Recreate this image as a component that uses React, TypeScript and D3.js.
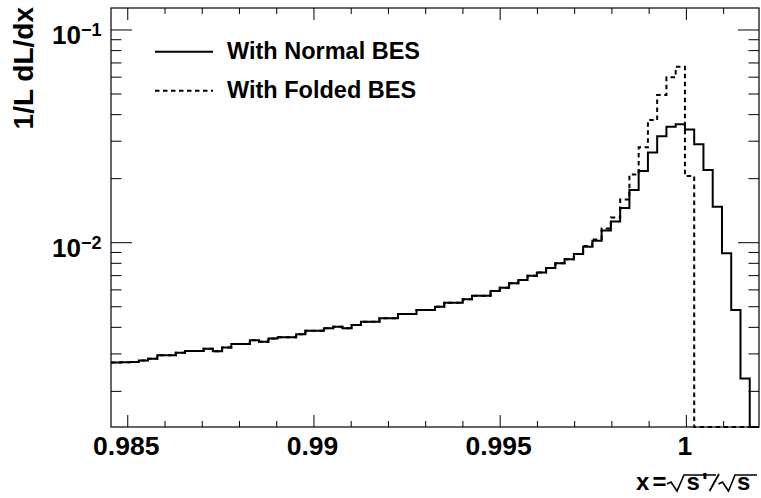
import React from 'react';
import * as d3 from 'd3';

// Histogram range (70 equal bins) and per-bin luminosity fractions
const BIN_LOW = 0.98455;
const BIN_HIGH = 1.00195;

const normalBES = [
  0.002733, 0.00274, 0.002748, 0.002793, 0.002845, 0.002958, 0.002958, 0.003039, 0.003096, 0.003096,
  0.003171, 0.003086, 0.003216, 0.00334, 0.00334, 0.003477, 0.003421, 0.003545, 0.003595, 0.003595,
  0.003714, 0.003853, 0.003853, 0.003959, 0.004028, 0.003959, 0.004103, 0.004252, 0.004252, 0.004411,
  0.004411, 0.004622, 0.004622, 0.004826, 0.004826, 0.005002, 0.005222, 0.005222, 0.005418, 0.005633,
  0.005633, 0.005928, 0.006143, 0.006443, 0.006677, 0.006997, 0.007244, 0.007604, 0.008, 0.008356,
  0.008849, 0.009576, 0.01022, 0.01141, 0.01258, 0.01456, 0.01769, 0.02174, 0.02656, 0.03164,
  0.03511, 0.03604, 0.03406, 0.02901, 0.02197, 0.01477, 0.008916, 0.004826, 0.002297, 0,
];

const foldedBES = [
  0.002733, 0.00274, 0.002748, 0.002793, 0.002845, 0.002958, 0.002958, 0.003039, 0.003096, 0.003096,
  0.003171, 0.003086, 0.003216, 0.00334, 0.00334, 0.003477, 0.003421, 0.003545, 0.003595, 0.003595,
  0.003714, 0.003853, 0.003853, 0.003959, 0.004028, 0.003959, 0.004103, 0.004252, 0.004252, 0.004411,
  0.004411, 0.004622, 0.004622, 0.004826, 0.004826, 0.005002, 0.005222, 0.005222, 0.005418, 0.005633,
  0.005633, 0.005928, 0.006143, 0.006443, 0.006677, 0.006997, 0.007244, 0.007604, 0.008, 0.008356,
  0.008849, 0.00965, 0.01035, 0.01166, 0.01314, 0.01596, 0.02092, 0.02809, 0.03775, 0.04948,
  0.05993, 0.06722, 0.02059, 0, 0, 0, 0, 0, 0, 0,
];

const xMajorTicks = [0.985, 0.99, 0.995, 1];
const xTickLabels = ['0.985', '0.99', '0.995', '1'];
const yMajorTicks = [0.01, 0.1];
const yTickExponents = ['\u22122', '\u22121'];
const legendLabels = ['With Normal BES', 'With Folded BES'];

const Y_MIN = 0.00136;
const Y_MAX = 0.12689;

const W = 761;
const H = 498;
const L = 111;
const R = 759;
const T = 8;
const B = 427;

const FONT = '"Liberation Sans", Arial, Helvetica, sans-serif';

export default function App() {
  const x = d3.scaleLinear().domain([BIN_LOW, BIN_HIGH]).range([L, R]);
  const y = d3.scaleLog().domain([Y_MIN, Y_MAX]).range([B, T]);
  const yPix = (v: number) => (v <= Y_MIN ? B : y(v));

  const nBins = normalBES.length;
  const bw = (BIN_HIGH - BIN_LOW) / nBins;

  const histPath = (vals: number[]) => {
    let d = '';
    vals.forEach((v, i) => {
      const x0 = x(BIN_LOW + i * bw);
      const x1 = x(BIN_LOW + (i + 1) * bw);
      const yy = yPix(v);
      d += i === 0 ? `M${x0},${yy}` : `V${yy}`;
      d += `H${x1}`;
    });
    return d;
  };

  // minor ticks
  const xMinor = d3.range(0.984, 1.003, 0.001)
    .map((v) => Math.round(v * 1000) / 1000)
    .filter((v) => v >= BIN_LOW && v <= BIN_HIGH && !xMajorTicks.some((m) => Math.abs(m - v) < 1e-9));
  const yMinor: number[] = [];
  [0.001, 0.01, 0.1].forEach((dec) => {
    for (let k = 2; k <= 9; k++) {
      const v = k * dec;
      if (v >= Y_MIN && v <= Y_MAX) yMinor.push(v);
    }
  });

  const xMajLen = 12;
  const xMinLen = 6;
  const yMajLen = 21;
  const yMinLen = 10.5;

  return (
    <svg
      width={W}
      height={H}
      style={{ position: 'absolute', left: 0, top: 0, background: '#fff' }}
      fontFamily={FONT}
      fontWeight="bold"
    >
      <rect x={0} y={0} width={W} height={H} fill="#fff" />
      <defs>
        <clipPath id="frameClip">
          <rect x={L} y={T - 1} width={R - L} height={B - T + 2} />
        </clipPath>
      </defs>

      {/* histograms */}
      <g clipPath="url(#frameClip)" fill="none" stroke="#000" strokeWidth={2}>
        <path d={histPath(normalBES)} />
        <path d={histPath(foldedBES)} strokeDasharray="4.5,3.5" />
      </g>

      {/* frame */}
      <rect x={L} y={T} width={R - L} height={B - T} fill="none" stroke="#000" strokeWidth={1.2} />

      {/* ticks on all four sides */}
      <g stroke="#000" strokeWidth={1}>
        {xMajorTicks.map((v) => (
          <g key={`xm${v}`}>
            <line x1={x(v)} x2={x(v)} y1={B} y2={B - xMajLen} />
            <line x1={x(v)} x2={x(v)} y1={T} y2={T + xMajLen} />
          </g>
        ))}
        {xMinor.map((v) => (
          <g key={`xn${v}`}>
            <line x1={x(v)} x2={x(v)} y1={B} y2={B - xMinLen} />
            <line x1={x(v)} x2={x(v)} y1={T} y2={T + xMinLen} />
          </g>
        ))}
        {yMajorTicks.map((v) => (
          <g key={`ym${v}`}>
            <line x1={L} x2={L + yMajLen} y1={y(v)} y2={y(v)} />
            <line x1={R} x2={R - yMajLen} y1={y(v)} y2={y(v)} />
          </g>
        ))}
        {yMinor.map((v) => (
          <g key={`yn${v}`}>
            <line x1={L} x2={L + yMinLen} y1={y(v)} y2={y(v)} />
            <line x1={R} x2={R - yMinLen} y1={y(v)} y2={y(v)} />
          </g>
        ))}
      </g>

      {/* x tick labels */}
      {xMajorTicks.map((v, i) => (
        <text key={`xl${v}`} x={x(v) - 1.5} y={455} fontSize={26.5} textAnchor="middle" fill="#000">
          {xTickLabels[i]}
        </text>
      ))}

      {/* y tick labels */}
      {yMajorTicks.map((v, i) => (
        <text key={`yl${v}`} x={101.5} y={y(v) + 14} fontSize={26} textAnchor="end" fill="#000">
          10
          <tspan fontSize={18} dy={-8}>{yTickExponents[i]}</tspan>
        </text>
      ))}

      {/* y axis title */}
      <text
        transform={`translate(33,7) rotate(-90)`}
        fontSize={28}
        textAnchor="end"
        fill="#000"
      >
        1/L dL/dx
      </text>

      {/* x axis title: x = sqrt(s')/sqrt(s) */}
      <g fill="#000" fontSize={24}>
        <text x={636} y={490}>x</text>
        <text x={652.5} y={490}>=</text>
        <path d="M667,484 L671,482 L677,491 L684,475 L716,475" fill="none" stroke="#000" strokeWidth={1.6} />
        <text x={686.5} y={490}>s</text>
        <text x={702} y={490}>'</text>
        <path d="M709.5,491 L719,474" fill="none" stroke="#000" strokeWidth={1.8} />
        <path d="M718.5,484 L722.5,482 L728.5,491 L735,475 L757,475" fill="none" stroke="#000" strokeWidth={1.6} />
        <text x={737} y={490}>s</text>
      </g>

      {/* legend */}
      <g>
        <line x1={155} x2={213} y1={51.7} y2={51.7} stroke="#000" strokeWidth={2} />
        <text x={227} y={59.3} fontSize={23.5} fill="#000">{legendLabels[0]}</text>
        <line x1={155} x2={213} y1={90.7} y2={90.7} stroke="#000" strokeWidth={2} strokeDasharray="4.5,3.5" />
        <text x={227} y={98.3} fontSize={23.5} fill="#000">{legendLabels[1]}</text>
      </g>
    </svg>
  );
}
